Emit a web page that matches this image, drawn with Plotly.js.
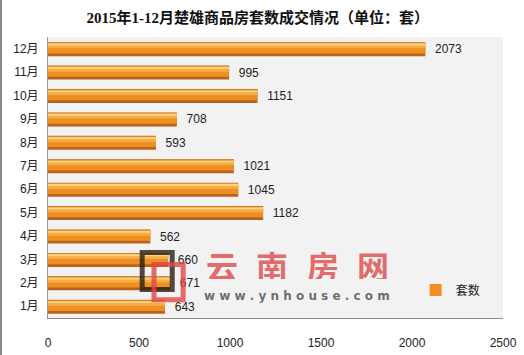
<!DOCTYPE html>
<html><head><meta charset="utf-8">
<script src="https://cdn.plot.ly/plotly-3.0.1.min.js"></script>
<style>
html,body{margin:0;padding:0;background:#fff;}
#wrap{width:522px;height:355px;border-left:2px solid #8a8a8a;}
#chart{width:522px;height:355px;}
</style></head>
<body><div id="wrap"><div id="chart"></div></div>
<script>
const months = ['1月','2月','3月','4月','5月','6月','7月','8月','9月','10月','11月','12月'];
const units = [643, 671, 660, 562, 1182, 1045, 1021, 593, 708, 1151, 995, 2073];
const seriesName = '套数';
const titleText = '2015年1-12月楚雄商品房套数成交情况（单位：套）';
const watermarkChars = ['云','南','房','网'];
const watermarkUrl = 'www.ynhouse.com';

const baseFont = 'Liberation Sans, Noto Sans CJK SC, sans-serif';
const n = months.length;
function arr(v){ return months.map(()=>v); }

const traces = [
  { type:'bar', orientation:'h', y:months, x:units, name:seriesName, showlegend:false,
    width:arr(0.6), offset:arr(-0.32), marker:{color:'#b8621c', line:{width:0}},
    text:units.map(v=>'  '+v), textposition:'outside', cliponaxis:false,
    textfont:{family:baseFont, size:12, color:'#222'}, hoverinfo:'x+y' },
  { type:'bar', orientation:'h', y:months, x:units, name:seriesName, showlegend:true,
    width:arr(0.46), offset:arr(-0.2), marker:{color:'#ef8e22', line:{width:0}},
    hoverinfo:'skip' },
  { type:'bar', orientation:'h', y:months, x:units, name:seriesName, showlegend:false,
    width:arr(0.2), offset:arr(0.02), marker:{color:'#f6ad45', line:{width:0}},
    hoverinfo:'skip' },
  { type:'bar', orientation:'h', y:months, x:units, name:seriesName, showlegend:false,
    width:arr(0.08), offset:arr(0.14), marker:{color:'#fcd488', line:{width:0}},
    hoverinfo:'skip' }
];

const wmX = [0.382, 0.492, 0.604, 0.714];
const annotations = watermarkChars.map((c,i)=>({
  text:'<b>'+c+'</b>', xref:'paper', yref:'paper', x:wmX[i], y:0.19,
  xanchor:'center', yanchor:'middle', showarrow:false, height:28,
  font:{family:'Noto Sans CJK SC, sans-serif', size:32, color:'rgba(224,88,88,0.9)'}
}));
annotations.push({text:'<b>'+watermarkUrl.split('').join(' ')+'</b>', xref:'paper', yref:'paper', x:0.547, y:0.08,
  xanchor:'center', yanchor:'middle', showarrow:false,
  font:{family:'DejaVu Sans, sans-serif', size:12, color:'rgba(85,85,85,0.85)'}});

const layout = {
  width:522, height:355,
  margin:{l:46, r:21, t:37, b:37},
  paper_bgcolor:'#ffffff', plot_bgcolor:'#f2f2f2',
  barmode:'overlay',
  title:{text:'<b>'+titleText+'</b>', x:0.49, xanchor:'center', y:0.95, yanchor:'middle',
         font:{family:'Liberation Serif, Noto Sans CJK SC, serif', size:15, color:'#111'}},
  xaxis:{range:[0,2500], tickvals:[0,500,1000,1500,2000,2500], showgrid:false, zeroline:false,
         showline:true, linecolor:'#888', linewidth:1, ticks:'', ticklabelstandoff:14,
         tickfont:{family:baseFont, size:12, color:'#222'}, fixedrange:true},
  yaxis:{type:'category', categoryorder:'array', categoryarray:months, range:[-0.5, n-0.5],
         showgrid:false, showline:true, linecolor:'#999', linewidth:1, ticks:'',
         ticklabelstandoff:6,
         tickfont:{family:baseFont, size:12, color:'#222'}, fixedrange:true},
  legend:{x:0.808, y:0.1, xanchor:'left', yanchor:'middle', bgcolor:'rgba(0,0,0,0)',
          font:{family:baseFont, size:12, color:'#222'}, itemwidth:30},
  shapes:[
    {type:'rect', xref:'paper', yref:'paper', x0:0.207, x1:0.273, y0:0.101, y1:0.233,
     line:{color:'rgba(40,30,20,0.8)', width:5}, fillcolor:'rgba(0,0,0,0)'},
    {type:'rect', xref:'paper', yref:'paper', x0:0.233, x1:0.297, y0:0.065, y1:0.19,
     line:{color:'rgba(225,70,70,0.8)', width:5}, fillcolor:'rgba(0,0,0,0)'}
  ],
  annotations:annotations
};

Plotly.newPlot('chart', traces, layout, {displayModeBar:false, staticPlot:true});
</script></body></html>
